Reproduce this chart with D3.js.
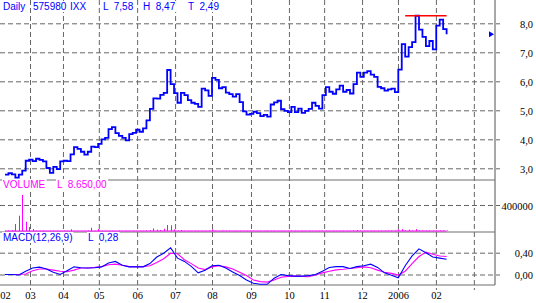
<!DOCTYPE html>
<html>
<head>
<meta charset="utf-8">
<script src="https://cdn.jsdelivr.net/npm/d3@7"></script>
<style>
  body { margin: 0; background: #fff; }
  svg { display: block; }
</style>
</head>
<body>
<div id="chart"></div>
<script>
// closing prices, one every 2 trading days (Feb 2005 - Feb 2006)
var closes = [
  2.78, 2.83, 2.79, 2.68, 2.78, 2.92, 3.26, 3.30, 3.25, 3.33,
  3.29, 3.24, 3.01, 2.84, 3.05, 2.97, 3.24, 3.26, 3.25, 3.48,
  3.73, 3.67, 3.57, 3.47, 3.57, 3.75, 3.73, 3.84, 4.00, 4.05,
  4.35, 4.42, 4.21, 4.12, 4.05, 3.96, 4.18, 4.22, 4.33, 4.26,
  4.38, 4.65, 5.05, 5.41, 5.40, 5.53, 5.60, 6.39, 5.90, 5.59,
  5.26, 5.60, 5.52, 5.35, 5.26, 5.22, 5.12, 5.75, 5.69, 5.50,
  6.12, 6.05, 5.76, 5.80, 5.61, 5.56, 5.47, 5.56, 5.28, 4.96,
  4.85, 4.88, 4.95, 4.90, 4.80, 4.84, 4.78, 5.20, 5.27, 5.33,
  5.04, 4.98, 4.94, 5.12, 4.94, 5.06, 4.91, 4.98, 5.05, 5.26,
  5.15, 5.06, 5.52, 5.80, 5.64, 5.57, 5.72, 5.85, 5.64, 5.70,
  5.58, 5.90, 6.30, 6.15, 6.30, 6.35, 6.23, 6.15, 5.81, 5.76,
  5.68, 5.72, 5.75, 5.63, 6.40, 7.28, 6.85, 7.18, 7.35, 8.26,
  7.78, 7.53, 7.21, 7.39, 7.10, 7.92, 8.13, 7.80, 7.62
];

// volume, same sampling as closes
var volumes = [
  5000, 8000, 12000, 108000, 235000, 554000, 143000, 60000, 30000, 6000,
  4000, 9000, 3000, 5000, 7000, 4000, 3000, 6000, 5000, 26000,
  4000, 5000, 3000, 6000, 8000, 50000, 5000, 30000, 4000, 3000,
  6000, 5000, 4000, 7000, 3000, 5000, 4000, 6000, 3000, 5000,
  4000, 8000, 12000, 40000, 20000, 15000, 35000, 92000, 88000, 25000,
  6000, 15000, 5000, 4000, 3000, 6000, 4000, 5000, 3000, 7000,
  25000, 4000, 3000, 5000, 4000, 6000, 3000, 4000, 5000, 3000,
  4000, 6000, 3000, 5000, 4000, 3000, 6000, 4000, 5000, 3000,
  4000, 5000, 3000, 6000, 4000, 3000, 5000, 4000, 6000, 3000,
  5000, 4000, 3000, 6000, 5000, 4000, 3000, 5000, 6000, 4000,
  5000, 7000, 15000, 6000, 5000, 4000, 6000, 5000, 4000, 7000,
  6000, 5000, 8000, 9000, 26000, 28000, 9000, 20000, 7000, 28000,
  9000, 8000, 7000, 9000, 6000, 8000, 9000, 7000, 8650
];

// MACD(12,26,9) and signal, one every 4 trading days
var macdLine = [
  0.00, 0.00, -0.01, 0.06, 0.12, 0.135, 0.10, 0.04, 0.00, 0.07,
  0.14, 0.125, 0.12, 0.125, 0.14, 0.21, 0.24, 0.17, 0.14, 0.14,
  0.14, 0.20, 0.32, 0.39, 0.49, 0.30, 0.24, 0.15, 0.03, 0.08,
  0.16, 0.17, 0.12, 0.045, -0.02, -0.10, -0.16, -0.18, -0.18, -0.07,
  0.00, -0.02, -0.03, -0.03, -0.02, 0.00, 0.06, 0.13, 0.145, 0.145,
  0.11, 0.145, 0.16, 0.19, 0.13, 0.03, -0.015, -0.06, 0.16, 0.34,
  0.47, 0.40, 0.32, 0.30, 0.28
];
var signalLine = [
  0.00, 0.00, 0.00, 0.01, 0.07, 0.10, 0.10, 0.08, 0.06, 0.05,
  0.08, 0.12, 0.12, 0.13, 0.145, 0.18, 0.19, 0.17, 0.145, 0.145,
  0.145, 0.16, 0.22, 0.29, 0.39, 0.38, 0.27, 0.20, 0.12, 0.09,
  0.14, 0.16, 0.14, 0.10, 0.04, -0.02, -0.10, -0.13, -0.14, -0.10,
  -0.05, -0.035, -0.03, -0.035, -0.04, -0.01, 0.03, 0.06, 0.085, 0.095,
  0.11, 0.125, 0.14, 0.125, 0.08, 0.04, 0.02, -0.01, 0.06, 0.20,
  0.33, 0.41, 0.37, 0.34, 0.33
];

// month starts, in close-sample units
var monthPos = [-3.5, 7.25, 16.8, 27.2, 38.3, 49.3, 60.0, 71.3, 82.3, 92.5, 103.5, 113.9, 124.9, 135.9];
var monthLabels = ["02", "03", "04", "05", "06", "07", "08", "09", "10", "11", "12", "2006", "02", ""];

var priceTicks = [3, 4, 5, 6, 7, 8];
var volumeTicks = [400000];
var macdTicks = [0, 0.4];

// red high line, sample range
var highLine = [116, 128];

// header texts
var header = ["Daily", "575980", "IXX", "L  7,58", "H  8,47", "T  2,49"];

/*********************************************************
 * LAYOUT
 *********************************************************/
var svgWidth = 536, svgHeight = 303;
var plotRight = 495;
var priceBottom = 180, volBottom = 232, macdBottom = 285;
var gridColor = "#666", dash = "5,3";
var axisFont = "'Liberation Serif', 'Times New Roman', serif";
var labelFont = "'Liberation Sans', Arial, sans-serif";

var x = d3.scaleLinear().domain([0, closes.length - 1]).range([5, 446.6]);
var yPrice = d3.scaleLinear().domain([3, 8]).range([168.3, 23.3]);
var yVol = d3.scaleLinear().domain([0, 400000]).range([231, 205]);
var yMacd = d3.scaleLinear().domain([0, 0.4]).range([274.5, 252.7]);

var svg = d3.select("#chart").append("svg")
  .attr("width", svgWidth)
  .attr("height", svgHeight);

svg.append("rect").attr("width", svgWidth).attr("height", svgHeight).attr("fill", "#fff");

function comma(f) {
  return function(d) { return d3.format(f)(d).replace(".", ","); };
}

// vertical month grid + labels
var xAxis = svg.append("g")
  .call(d3.axisBottom(x).tickValues(monthPos).tickSize(290).tickPadding(1.5)
    .tickFormat(function(d, i) { return monthLabels[i]; }));
xAxis.select(".domain").remove();
xAxis.selectAll("line").attr("stroke", gridColor).attr("stroke-dasharray", dash);
xAxis.selectAll("text")
  .attr("font-family", axisFont).attr("font-size", 10.5).attr("fill", "#000")
  .attr("x", function(d) { return Math.max(0, 5 - x(d)); });

// horizontal grids with right labels
function rightAxis(scale, ticks, fmt) {
  var g = svg.append("g")
    .call(d3.axisRight(scale).tickValues(ticks).tickSize(500).tickFormat(fmt));
  g.select(".domain").remove();
  g.selectAll("line").attr("stroke", gridColor).attr("stroke-dasharray", dash);
  g.selectAll("text")
    .attr("x", 533).attr("text-anchor", "end").attr("dy", "0.4em")
    .attr("font-family", axisFont).attr("font-size", 10.5).attr("fill", "#000");
  return g;
}
rightAxis(yPrice, priceTicks, comma(".1f"));
rightAxis(yVol, volumeTicks, d3.format("d"));
rightAxis(yMacd, macdTicks, comma(".2f"));

// panel frames
var frame = svg.append("g").attr("stroke", "#6e6e6e").attr("stroke-width", 1.2);
[priceBottom, volBottom, macdBottom].forEach(function(y) {
  frame.append("line").attr("x1", 0).attr("x2", plotRight).attr("y1", y).attr("y2", y);
});
frame.append("line").attr("x1", plotRight).attr("x2", plotRight).attr("y1", 0).attr("y2", macdBottom);

// price line
svg.append("path")
  .datum(closes)
  .attr("fill", "none")
  .attr("stroke", "#0000ff")
  .attr("stroke-width", 1.8)
  .attr("d", d3.line().x(function(d, i) { return x(i); }).y(function(d) { return yPrice(d); })
    .curve(d3.curveStepAfter));

// high line
svg.append("line")
  .attr("x1", x(highLine[0])).attr("x2", x(highLine[1]))
  .attr("y1", yPrice(d3.max(closes))).attr("y2", yPrice(d3.max(closes)))
  .attr("stroke", "#ff0000").attr("stroke-width", 1.5);

// last price marker
var lastY = yPrice(closes[closes.length - 1]);
svg.append("path")
  .attr("d", "M" + (plotRight - 6) + "," + (lastY - 3) + "L" + (plotRight - 1) + "," + lastY +
    "L" + (plotRight - 6) + "," + (lastY + 3) + "Z")
  .attr("fill", "#0000ff");

// volume
svg.append("line")
  .attr("x1", x(0)).attr("x2", x(volumes.length - 1))
  .attr("y1", yVol(0)).attr("y2", yVol(0))
  .attr("stroke", "#ff00ff").attr("stroke-width", 1.2);
svg.append("g").selectAll("rect")
  .data(volumes)
  .enter()
  .append("rect")
  .attr("x", function(d, i) { return Math.round(x(i)); })
  .attr("width", 1)
  .attr("y", function(d) { return yVol(d); })
  .attr("height", function(d) { return yVol(0) - yVol(d); })
  .attr("fill", "#ff00ff");

// MACD
function macdPath(data, color) {
  svg.append("path")
    .datum(data)
    .attr("fill", "none")
    .attr("stroke", color)
    .attr("stroke-width", 1.1)
    .attr("d", d3.line().x(function(d, k) { return x(k * 2); }).y(function(d) { return yMacd(d); }));
}
macdPath(signalLine, "#ff00ff");
macdPath(macdLine, "#0000ff");

// panel captions with white background
function caption(items, y, color) {
  var g = svg.append("g");
  items.forEach(function(it) {
    var t = g.append("text")
      .attr("x", it[0]).attr("y", y)
      .attr("font-family", labelFont).attr("font-size", 10)
      .attr("fill", color)
      .attr("xml:space", "preserve")
      .text(it[1]);
    var b = t.node().getBBox();
    g.insert("rect", "text")
      .attr("x", b.x - 1).attr("y", b.y).attr("width", b.width + 2).attr("height", b.height)
      .attr("fill", "#fff");
  });
}
caption([[3, header[0]], [33, header[1]], [70, header[2]], [103, header[3]], [143, header[4]], [188, header[5]]], 10, "#0000ff");
caption([[3, "VOLUME"], [57, "L  8.650,00"]], 188, "#ff00ff");
caption([[3, "MACD(12,26,9)"], [88, "L  0,28"]], 241, "#0000ff");
</script>
</body>
</html>
